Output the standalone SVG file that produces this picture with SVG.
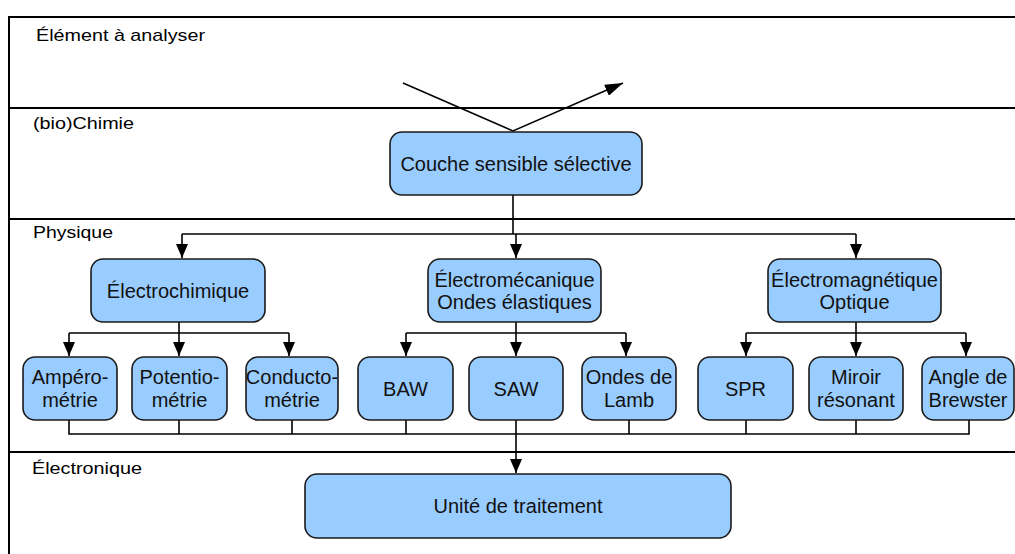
<svg xmlns="http://www.w3.org/2000/svg" width="1015" height="554" viewBox="0 0 1015 554">
<style>
.lane{stroke:#000;stroke-width:2;fill:none}
.lbl{font-family:"Liberation Sans",Arial,sans-serif;font-size:17px;fill:#000}
.box{fill:#99ccff;stroke:#1a1a1a;stroke-width:1.6}
.t{font-family:"Liberation Sans",Arial,sans-serif;font-size:20px;fill:#111;text-anchor:middle}
.c{stroke:#000;stroke-width:1.6;fill:none}
</style>
<defs>
<marker id="ah" viewBox="0 0 14 12" refX="14" refY="6" markerWidth="14" markerHeight="12" markerUnits="userSpaceOnUse" orient="auto">
<path d="M0,0 L14,6 L0,12 Z" fill="#000"/>
</marker>
<marker id="ahL" viewBox="0 0 18 12" refX="18" refY="6" markerWidth="18" markerHeight="12" markerUnits="userSpaceOnUse" orient="auto">
<path d="M0,0 L18,6 L0,12 Z" fill="#000"/>
</marker>
</defs>
<rect width="1015" height="554" fill="#fff"/>
<g id="lanes">
<path class="lane" d="M1015,17 H9 V554"/>
<path class="lane" d="M9,108 H1015"/>
<path class="lane" d="M9,219 H1015"/>
<path class="lane" d="M9,452 H1015"/>
<text class="lbl" x="36" y="41" textLength="169" lengthAdjust="spacingAndGlyphs">Élément à analyser</text>
<text class="lbl" x="33" y="129" textLength="101" lengthAdjust="spacingAndGlyphs">(bio)Chimie</text>
<text class="lbl" x="33" y="238" textLength="80" lengthAdjust="spacingAndGlyphs">Physique</text>
<text class="lbl" x="32" y="474" textLength="110" lengthAdjust="spacingAndGlyphs">Électronique</text>
</g>
<g id="connectors">
<path class="c" d="M403,83 L513,131 L623,83" marker-end="url(#ahL)"/>
<path class="c" d="M513,195 V234"/>
<path class="c" d="M182,234 H856"/>
<path class="c" d="M182,234 V258" marker-end="url(#ah)"/>
<path class="c" d="M516,234 V258" marker-end="url(#ah)"/>
<path class="c" d="M856,234 V258" marker-end="url(#ah)"/>
<path class="c" d="M179,322 V333 M69,333 H289 M406,333 H626 M746,333 H966 M516,322 V333 M856,322 V333"/>
<path class="c" d="M69,333 V356" marker-end="url(#ah)"/>
<path class="c" d="M179,333 V356" marker-end="url(#ah)"/>
<path class="c" d="M289,333 V356" marker-end="url(#ah)"/>
<path class="c" d="M406,333 V356" marker-end="url(#ah)"/>
<path class="c" d="M516,333 V356" marker-end="url(#ah)"/>
<path class="c" d="M626,333 V356" marker-end="url(#ah)"/>
<path class="c" d="M746,333 V356" marker-end="url(#ah)"/>
<path class="c" d="M856,333 V356" marker-end="url(#ah)"/>
<path class="c" d="M966,333 V356" marker-end="url(#ah)"/>
<path class="c" d="M69,420 V434 H969 V420 M179,420 V434 M292,420 V434 M406,420 V434 M629,420 V434 M746,420 V434 M856,420 V434"/>
<path class="c" d="M516,420 V473" marker-end="url(#ah)"/>
</g>
<g id="couche"><rect class="box" x="390" y="132" width="252" height="63" rx="12"/><text class="t" x="516" y="170.5">Couche sensible sélective</text></g>
<g id="electrochimique"><rect class="box" x="91" y="259" width="174" height="63" rx="12"/><text class="t" x="178" y="297.5">Électrochimique</text></g>
<g id="electromecanique"><rect class="box" x="428" y="259" width="173" height="63" rx="12"/><text class="t" x="514.5" y="287">Électromécanique</text><text class="t" x="514.5" y="309">Ondes élastiques</text></g>
<g id="electromagnetique"><rect class="box" x="768" y="259" width="173" height="63" rx="12"/><text class="t" x="854.5" y="287">Électromagnétique</text><text class="t" x="854.5" y="309">Optique</text></g>
<g id="amperometrie"><rect class="box" x="23" y="357" width="94" height="63" rx="12"/><text class="t" x="70" y="384">Ampéro-</text><text class="t" x="70" y="407">métrie</text></g>
<g id="potentiometrie"><rect class="box" x="132" y="357" width="95" height="63" rx="12"/><text class="t" x="179.5" y="384">Potentio-</text><text class="t" x="179.5" y="407">métrie</text></g>
<g id="conductometrie"><rect class="box" x="246" y="357" width="92" height="63" rx="12"/><text class="t" x="292" y="384">Conducto-</text><text class="t" x="292" y="407">métrie</text></g>
<g id="baw"><rect class="box" x="358" y="357" width="95" height="63" rx="12"/><text class="t" x="405.5" y="396">BAW</text></g>
<g id="saw"><rect class="box" x="469" y="357" width="94" height="63" rx="12"/><text class="t" x="516" y="396">SAW</text></g>
<g id="lamb"><rect class="box" x="582" y="357" width="94" height="63" rx="12"/><text class="t" x="629" y="384">Ondes de</text><text class="t" x="629" y="407">Lamb</text></g>
<g id="spr"><rect class="box" x="698" y="357" width="95" height="63" rx="12"/><text class="t" x="745.5" y="396">SPR</text></g>
<g id="miroir"><rect class="box" x="809" y="357" width="94" height="63" rx="12"/><text class="t" x="856" y="384">Miroir</text><text class="t" x="856" y="407">résonant</text></g>
<g id="brewster"><rect class="box" x="922" y="357" width="92" height="63" rx="12"/><text class="t" x="968" y="384">Angle de</text><text class="t" x="968" y="407">Brewster</text></g>
<g id="unite"><rect class="box" x="305" y="474" width="426" height="64" rx="12"/><text class="t" x="518" y="513">Unité de traitement</text></g>
</svg>
